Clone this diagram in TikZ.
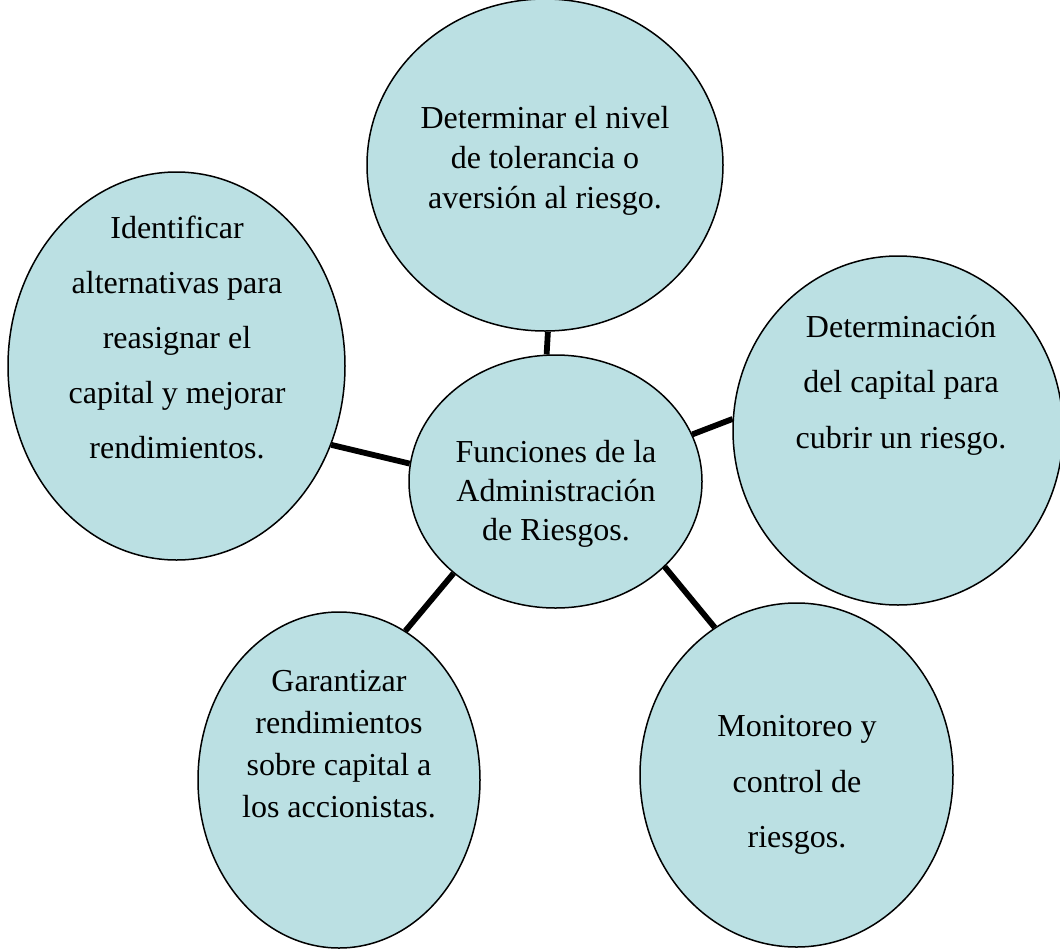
\documentclass[tikz,border=0pt]{standalone}
\usepackage{fontspec}
\setmainfont{Liberation Serif}
\usetikzlibrary{shapes.geometric}
\definecolor{bubble}{RGB}{187,224,227}
\begin{document}
\begin{tikzpicture}[x=1pt,y=-1pt,
  bub/.style={ellipse, draw=black, line width=1.5pt, fill=bubble, inner sep=0pt},
  lbl/.style={align=center, inner sep=0pt, font=\fontsize{32}{#1}\selectfont},
  lbl/.default=36,
  link/.style={line width=5.8pt, draw=black}]
\useasboundingbox (0,0) rectangle (1060,948);
% bubbles
\node[bub, minimum width=356pt, minimum height=332pt] (top) at (545,165) {};
\node[bub, minimum width=337pt, minimum height=388pt] (left) at (176.5,366) {};
\node[bub, minimum width=330pt, minimum height=349pt] (right) at (898,430.5) {};
\node[bub, minimum width=282pt, minimum height=336pt] (bl) at (339,780) {};
\node[bub, minimum width=313pt, minimum height=344pt] (br) at (796.5,775) {};
\node[bub, minimum width=293pt, minimum height=253pt] (ctr) at (555.5,481.5) {};
% connectors
\draw[link] (top.-89) -- (ctr.94);
\draw[link] (left.-27.5) -- (ctr.173.5);
\draw[link] (right.176.5) -- (ctr.19.2);
\draw[link] (bl.66.9) -- (ctr.222.3);
\draw[link] (br.119.4) -- (ctr.-38.8);
% texts
\node[lbl=40] (ttop) at (545,160.5) {Determinar el nivel\\de tolerancia o\\aversión al riesgo.};
\node[lbl=39] (tctr) at (556,493.5) {Funciones de la\\Administración\\de Riesgos.};
\node[lbl=55] (tleft) at (177,337) {Identificar\\alternativas para\\reasignar el\\capital y mejorar\\rendimientos.};
\node[lbl=55.5] (tright) at (901,385) {Determinación\\del capital para\\cubrir un riesgo.};
\node[lbl=42] (tbl) at (339,744) {Garantizar\\rendimientos\\sobre capital a\\los accionistas.};
\node[lbl=55.5] (tbr) at (797,785) {Monitoreo y\\control de\\riesgos.};
\end{tikzpicture}
\end{document}
